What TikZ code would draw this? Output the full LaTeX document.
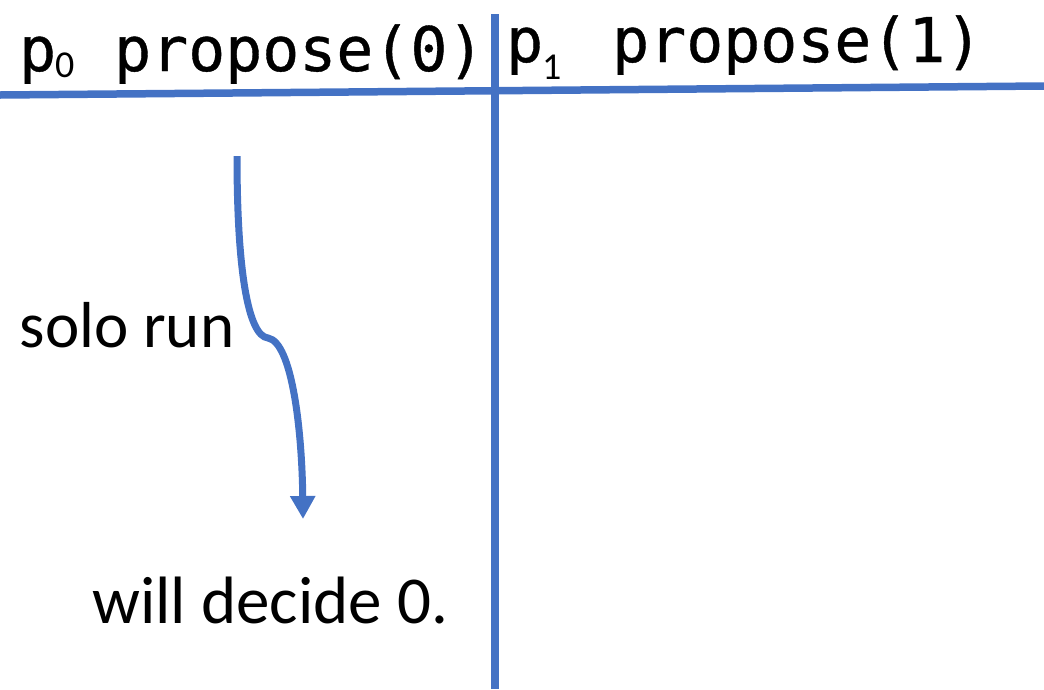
\documentclass[tikz,border=0pt]{standalone}
\usepackage{fontspec}
\setmainfont{Carlito}
\newfontfamily\monof[FakeBold=0.6]{DejaVu Sans Mono}
\usetikzlibrary{arrows.meta}
\definecolor{lineblue}{HTML}{4472C4}
\begin{document}
\begin{tikzpicture}[x=1pt,y=-1pt,
  bluerule/.style={draw=lineblue,line width=7.5pt},
  flowarrow/.style={draw=lineblue,line width=7pt,-{Triangle[length=23pt,width=24pt]}},
  monotext/.style={inner sep=0pt,anchor=base west,font=\monof\fontsize{61.5}{72}\selectfont},
  subtext/.style={inner sep=0pt,anchor=base west,font=\fontsize{38}{44}\selectfont},
  labeltext/.style={inner sep=0pt,anchor=base west}]
\useasboundingbox (0,0) rectangle (1044,689);
% lines
\coordinate (hl) at (0,95);
\coordinate (hr) at (1044,86);
\coordinate (vt) at (495,14);
\coordinate (vb) at (495,689);
\draw[bluerule] (hl) -- (hr);
\draw[bluerule] (vt) -- (vb);
% headers
\node[monotext] (p0) at (19,71) {p};
\node[subtext] (s0) at (55,77) {0};
\node[monotext] (prop0) at (114,71) {propose(0)};
\node[monotext] (p1) at (506,62) {p};
\node[subtext] (s1) at (542,79) {1};
\node[monotext] (prop1) at (612,62) {propose(1)};
% labels
\node[labeltext,font=\fontsize{65}{78}\selectfont] (solo) at (19.5,347) {solo run};
\node[labeltext,font=\fontsize{67}{80}\selectfont] (decide) at (92,623) {will decide 0.};
% arrow
\coordinate (a0) at (237,156);
\coordinate (ak) at (268,338);
\coordinate (a1) at (303,519);
\draw[flowarrow] (a0) .. controls (237,270) and (248,336) .. (ak)
  .. controls (292,342) and (302,430) .. (a1);
\end{tikzpicture}
\end{document}
